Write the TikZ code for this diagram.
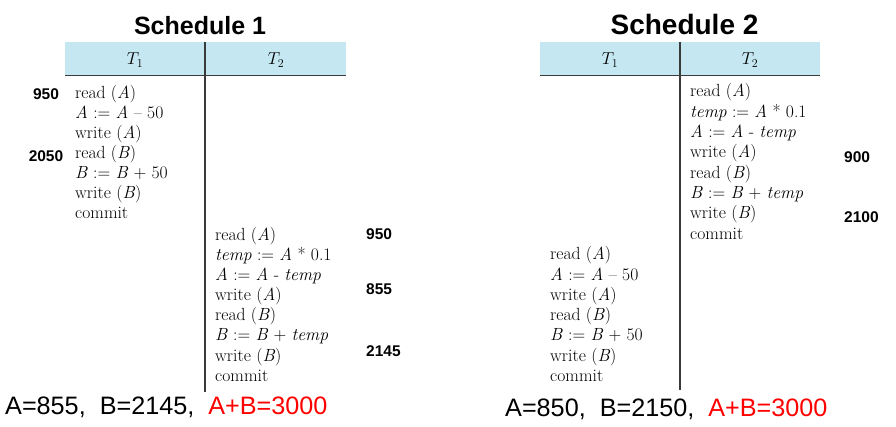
\documentclass[tikz,border=0pt]{standalone}
\usepackage{fontspec}
\newfontfamily\arial{Liberation Sans}
\definecolor{hdr}{HTML}{C4E7F1}
\definecolor{rulec}{HTML}{3A3A3A}
\definecolor{sumred}{HTML}{FF0000}
\begin{document}
\begin{tikzpicture}[x=1pt,y=-1pt,
  band/.style={fill=hdr,draw=none},
  rulev/.style={draw=rulec,line width=1.7pt},
  ruleh/.style={draw=rulec,line width=1.5pt},
  op/.style={anchor=base west,inner sep=0pt,font=\fontsize{17.6}{19}\selectfont},
  hd/.style={anchor=base,inner sep=0pt,font=\fontsize{17}{19}\selectfont},
  val/.style={anchor=base,inner sep=0pt,font=\arial\bfseries\fontsize{15.5}{17}\selectfont},
  valw/.style={anchor=base west,inner sep=0pt,font=\arial\bfseries\fontsize{15.5}{17}\selectfont},
  ttl/.style={anchor=base,inner sep=0pt,font=\arial\bfseries\fontsize{25}{28}\selectfont},
  ttlb/.style={anchor=base,inner sep=0pt,font=\arial\bfseries\fontsize{28}{31}\selectfont},
  tot/.style={anchor=base west,inner sep=0pt,font=\arial\fontsize{25.2}{28}\selectfont}]
\useasboundingbox (0,0) rectangle (896,427);

% ---------- Schedule 1 ----------
\node[ttl] (t1) at (200,35) {Schedule 1};
\fill[band] (65,42.5) rectangle (345.5,75.5);
\coordinate (s1hl) at (65,75.5);
\coordinate (s1hr) at (345.5,75.5);
\coordinate (s1vt) at (205,42.5);
\coordinate (s1vb) at (205,392);
\draw[ruleh] (s1hl) -- (s1hr);
\draw[rulev] (s1vt) -- (s1vb);
\node[hd] (s1h1) at (135,65) {$T_1$};
\node[hd] (s1h2) at (276,65) {$T_2$};

\node[op] (a1) at (75,98.5) {read (\textit{A})};
\node[op] (a2) at (75,118.5) {\textit{A} := \textit{A} – 50};
\node[op] (a3) at (75,138.5) {write (\textit{A})};
\node[op] (a4) at (75,158.5) {read (\textit{B})};
\node[op] (a5) at (75,178.5) {\textit{B} := \textit{B} + 50};
\node[op] (a6) at (75,198.5) {write (\textit{B})};
\node[op] (a7) at (75,218.5) {commit};

\node[op] (b1) at (215,240.5) {read (\textit{A})};
\node[op] (b2) at (215,260.6) {\textit{temp} := \textit{A} * 0.1};
\node[op] (b3) at (215,280.7) {\textit{A} := \textit{A} - \textit{temp}};
\node[op] (b4) at (215,300.8) {write (\textit{A})};
\node[op] (b5) at (215,320.9) {read (\textit{B})};
\node[op] (b6) at (215,341.0) {\textit{B} := \textit{B} + \textit{temp}};
\node[op] (b7) at (215,361.1) {write (\textit{B})};
\node[op] (b8) at (215,381.2) {commit};

\node[val] (v1) at (46,100) {950};
\node[val] (v2) at (46,161.5) {2050};
\node[valw] (v3) at (366,240) {950};
\node[valw] (v4) at (366,295) {855};
\node[valw] (v5) at (366,356.5) {2145};

\node[tot] (sum1) at (5,414) {A=855,\ \ B=2145,\ \ \textcolor{sumred}{A+B=3000}};

% ---------- Schedule 2 ----------
\node[ttlb] (t2) at (684.5,35) {Schedule 2};
\fill[band] (540,42) rectangle (820,75.5);
\coordinate (s2hl) at (540,75.5);
\coordinate (s2hr) at (820,75.5);
\coordinate (s2vt) at (680,42);
\coordinate (s2vb) at (680,390);
\draw[ruleh] (s2hl) -- (s2hr);
\draw[rulev] (s2vt) -- (s2vb);
\node[hd] (s2h1) at (610,65) {$T_1$};
\node[hd] (s2h2) at (750,65) {$T_2$};

\node[op] (c1) at (690,97) {read (\textit{A})};
\node[op] (c2) at (690,117.3) {\textit{temp} := \textit{A} * 0.1};
\node[op] (c3) at (690,137.6) {\textit{A} := \textit{A} - \textit{temp}};
\node[op] (c4) at (690,157.9) {write (\textit{A})};
\node[op] (c5) at (690,178.2) {read (\textit{B})};
\node[op] (c6) at (690,198.5) {\textit{B} := \textit{B} + \textit{temp}};
\node[op] (c7) at (690,218.8) {write (\textit{B})};
\node[op] (c8) at (690,239.1) {commit};

\node[op] (d1) at (550,260) {read (\textit{A})};
\node[op] (d2) at (550,280.2) {\textit{A} := \textit{A} – 50};
\node[op] (d3) at (550,300.4) {write (\textit{A})};
\node[op] (d4) at (550,320.6) {read (\textit{B})};
\node[op] (d5) at (550,340.8) {\textit{B} := \textit{B} + 50};
\node[op] (d6) at (550,361.0) {write (\textit{B})};
\node[op] (d7) at (550,381.2) {commit};

\node[valw] (w1) at (844,162.5) {900};
\node[valw] (w2) at (844,222.5) {2100};

\node[tot] (sum2) at (505,416.5) {A=850,\ \ B=2150,\ \ \textcolor{sumred}{A+B=3000}};
\end{tikzpicture}
\end{document}
